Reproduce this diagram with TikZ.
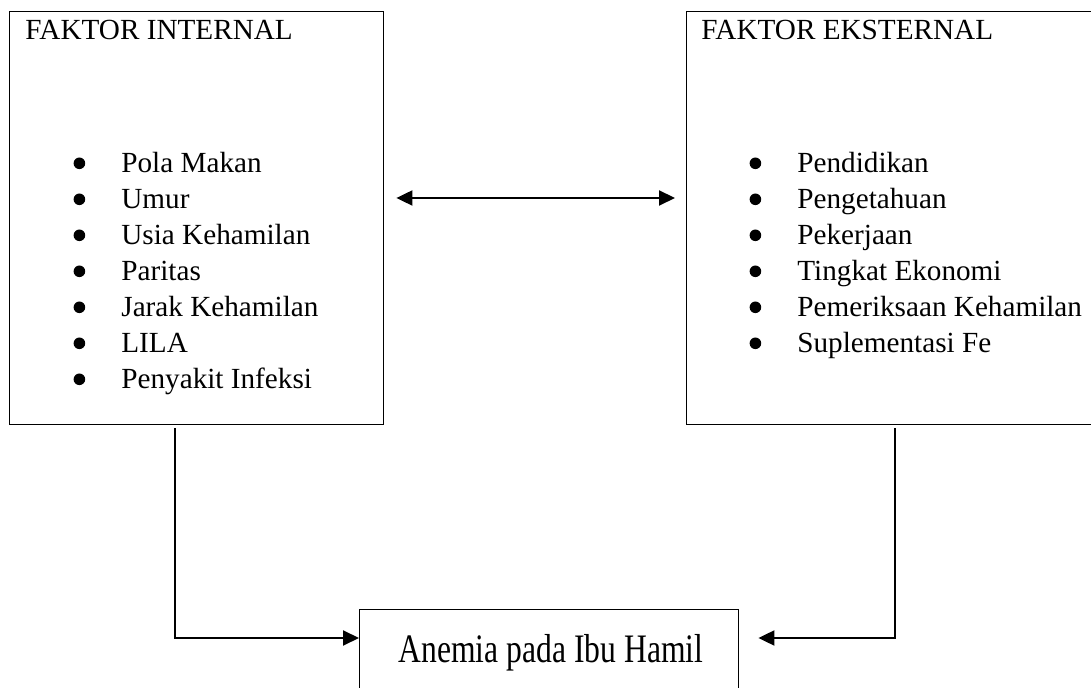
\documentclass[tikz,border=0pt]{standalone}
\usepackage{amsmath}
\usepackage{xcolor}
\usepackage{fontspec}
\setmainfont{Liberation Serif}
\usepackage{tikz}
\usetikzlibrary{arrows.meta,calc}

\newcommand{\bul}{\llap{\raisebox{1.8pt}{\tikz\fill (0,0) circle (2.9pt);}\hspace{18.1pt}}}
\tikzset{
  kotak/.style={draw, line width=0.7pt, rectangle, inner sep=0pt, anchor=north west},
  butir/.style={anchor=base west, inner sep=0pt, font=\fontsize{14.6}{18}\selectfont},
  panah/.style={line width=1pt, -{Triangle[length=8pt,width=7.5pt]}},
  panahdua/.style={line width=1pt, {Triangle[length=8pt,width=7.5pt]}-{Triangle[length=8pt,width=7.5pt]}}
}

\begin{document}
\begin{tikzpicture}[x=0.5pt,y=0.5pt,yscale=-1,xscale=1]
\useasboundingbox (0,0) rectangle (1091,688);
\clip (0,0) rectangle (1091,688);
% kotak faktor
\node [kotak, minimum width=187pt, minimum height=206.5pt] (intern) at (9,11) {};
\node [kotak, minimum width=210pt, minimum height=206.5pt] (ekstern) at (686,11) {};
\node [kotak, minimum width=189.5pt, minimum height=60pt] (hasil) at (359,609) {};

\draw (25,40) node (judulint) [butir] {FAKTOR INTERNAL};
\draw (121,172.7) node (pola) [butir] {\bul Pola Makan};
\draw (121,208.7) node (umur) [butir] {\bul Umur};
\draw (121,244.7) node (usia) [butir] {\bul Usia Kehamilan};
\draw (121,280.7) node (paritas) [butir] {\bul Paritas};
\draw (121,316.7) node (jarak) [butir] {\bul Jarak Kehamilan};
\draw (121,352.7) node (lila) [butir] {\bul LILA};
\draw (121,388.7) node (infeksi) [butir] {\bul Penyakit Infeksi};

\draw (701,40) node (judulek) [butir] {FAKTOR EKSTERNAL};
\draw (797,172.7) node (didik) [butir] {\bul Pendidikan};
\draw (797,208.7) node (tahu) [butir] {\bul Pengetahuan};
\draw (797,244.7) node (kerja) [butir] {\bul Pekerjaan};
\draw (797,280.7) node (ekonomi) [butir] {\bul Tingkat Ekonomi};
\draw (797,316.7) node (periksa) [butir] {\bul Pemeriksaan Kehamilan};
\draw (797,352.7) node (suplemen) [butir] {\bul Suplementasi Fe};

\draw (551,662) node (anemia) [anchor=base, inner sep=0pt, font=\fontsize{15.8}{18}\selectfont] {\scalebox{1}[1.28]{Anemia pada Ibu Hamil}};

% panah
\draw [panahdua] ($(intern.north east)+(12,187)$) -- ($(ekstern.north west)+(-11,187)$);
\draw [panah] ($(intern.south west)+(165.5,3)$) |- ($(hasil.north west)+(0,29)$);
\draw [panah] ($(ekstern.south west)+(209,3)$) |- ($(hasil.north east)+(19,29)$);
\end{tikzpicture}
\end{document}
